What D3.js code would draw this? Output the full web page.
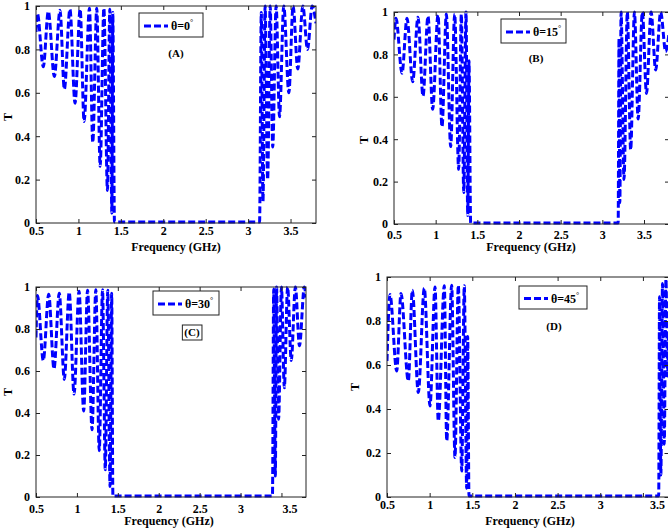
<!DOCTYPE html>
<html>
<head>
<meta charset="utf-8">
<script src="https://cdn.jsdelivr.net/npm/d3@7"></script>
<style>
  body { margin: 0; background: #fff; }
  svg { display: block; }
  text { font-family: "Liberation Serif", "Times New Roman", serif; font-weight: bold; fill: #000; }
</style>
</head>
<body>
<svg id="chart" width="668" height="528"></svg>
<script>
// ---------------- data ----------------
const xTicks = [0.5, 1, 1.5, 2, 2.5, 3, 3.5];
const yTicks = [0, 0.2, 0.4, 0.6, 0.8, 1];
const xLabel = "Frequency (GHz)";
const yLabel = "T";
const angles = ["0", "15", "30", "45"];
const panelTags = ["(A)", "(B)", "(C)", "(D)"];

// panel A, θ = 0°
const freqA = [0.50, 0.516, 0.586, 0.645, 0.716, 0.783, 0.834, 0.90, 0.96, 1.02, 1.067, 1.13, 1.169, 1.216, 1.256, 1.30, 1.342, 1.37, 1.394, 1.405, 1.425,
               3.135, 3.155, 3.175, 3.20, 3.23, 3.26, 3.29, 3.33, 3.37, 3.42, 3.48, 3.53, 3.585, 3.645, 3.70, 3.755, 3.80];
const transA = [0.88, 0.966, 0.72, 0.975, 0.675, 0.98, 0.617, 0.985, 0.552, 0.985, 0.468, 0.99, 0.371, 0.99, 0.261, 0.99, 0.15, 0.985, 0.046, 0.97, 0.005,
                0.005, 0.97, 0.1, 1.0, 0.2, 1.0, 0.35, 1.0, 0.49, 1.0, 0.6, 1.0, 0.71, 1.0, 0.8, 1.0, 0.92];

// panel B, θ = 15°
const freqB = [0.50, 0.524, 0.596, 0.656, 0.724, 0.788, 0.848, 0.908, 0.964, 1.028, 1.076, 1.128, 1.18, 1.228, 1.276, 1.308, 1.337, 1.364, 1.385, 1.40, 1.42,
               3.19, 3.20, 3.21, 3.225, 3.26, 3.30, 3.34, 3.385, 3.43, 3.48, 3.53, 3.585, 3.64, 3.70, 3.76, 3.80];
const transB = [0.87, 0.97, 0.711, 0.97, 0.671, 0.975, 0.604, 0.98, 0.541, 0.986, 0.459, 0.99, 0.365, 0.99, 0.258, 0.99, 0.148, 1.0, 0.04, 0.77, 0.005,
                0.005, 0.876, 0.1, 1.0, 0.21, 1.0, 0.35, 1.0, 0.495, 1.0, 0.616, 1.0, 0.726, 1.0, 0.813, 0.9];

// panel C, θ = 30°
const freqC = [0.50, 0.518, 0.589, 0.655, 0.72, 0.784, 0.846, 0.906, 0.965, 1.026, 1.083, 1.13, 1.185, 1.231, 1.273, 1.313, 1.347, 1.377, 1.405, 1.425, 1.44,
               3.39, 3.405, 3.425, 3.44, 3.465, 3.50, 3.535, 3.575, 3.62, 3.67, 3.72, 3.78, 3.80];
const transC = [0.76, 0.96, 0.65, 0.965, 0.61, 0.97, 0.56, 0.975, 0.49, 0.98, 0.41, 0.985, 0.32, 0.987, 0.22, 0.987, 0.13, 0.985, 0.05, 0.97, 0.005,
                0.005, 0.99, 0.1, 1.0, 0.37, 1.0, 0.52, 1.0, 0.65, 1.0, 0.72, 1.0, 0.95];

// panel D, θ = 45°
const freqD = [0.50, 0.535, 0.614, 0.664, 0.75, 0.797, 0.867, 0.937, 1.004, 1.063, 1.101, 1.172, 1.2, 1.258, 1.297, 1.336, 1.376, 1.406, 1.434, 1.446, 1.461,
               3.685, 3.695, 3.71, 3.73, 3.75, 3.77, 3.79, 3.80];
const transD = [0.618, 0.92, 0.573, 0.925, 0.527, 0.94, 0.475, 0.949, 0.414, 0.955, 0.345, 0.96, 0.255, 0.962, 0.18, 0.962, 0.118, 0.96, 0.04, 0.73, 0.005,
                0.005, 0.91, 0.1, 0.97, 0.24, 0.99, 0.55, 0.75];

const seriesFreq = [freqA, freqB, freqC, freqD];
const seriesTrans = [transA, transB, transC, transD];

// ---------------- layout ----------------
const panels = [
  { left: 36,  right: 316,   top: 6,   bottom: 223, xDom: [0.5, 3.8], tickPad: 3, lastDx: 0,
    xLab: [176, 251], yLab: [8, 117], legend: [139, 13, 64, 24], tag: [176, 57], tagBox: false },
  { left: 394, right: 669,   top: 12,  bottom: 224, xDom: [0.5, 3.8], tickPad: 6, lastDx: 0,
    xLab: [531, 251], yLab: [364, 140], legend: [501, 19, 65, 24], tag: [536, 62], tagBox: false },
  { left: 36,  right: 306,   top: 287, bottom: 497, xDom: [0.5, 3.8], tickPad: 7, lastDx: 8,
    xLab: [169, 525], yLab: [8, 392], legend: [153, 291, 66, 24], tag: [192, 336], tagBox: true },
  { left: 387, right: 668.5, top: 277, bottom: 497, xDom: [0.5, 3.8], tickPad: 3, lastDx: 14,
    xLab: [530, 525], yLab: [355, 387], legend: [519, 286, 68, 23], tag: [554, 330], tagBox: false }
];

const svg = d3.select("#chart");
const blue = "#0000ff";
const dash = "7,3";

panels.forEach((p, i) => {
  const x = d3.scaleLinear().domain(p.xDom).range([p.left, p.right]);
  const y = d3.scaleLinear().domain([0, 1]).range([p.bottom, p.top]);
  const g = svg.append("g");

  const clipId = "clip" + i;
  g.append("clipPath").attr("id", clipId).append("rect")
    .attr("x", p.left).attr("y", p.top - 3)
    .attr("width", p.right - p.left).attr("height", p.bottom - p.top + 6);

  // data line
  const data = seriesFreq[i].map((f, k) => ({ f: f, t: seriesTrans[i][k] }));
  const line = d3.line().x(d => x(d.f)).y(d => y(d.t)).curve(d3.curveMonotoneX);
  g.append("path").datum(data)
    .attr("clip-path", `url(#${clipId})`)
    .attr("d", line)
    .attr("fill", "none")
    .attr("stroke", blue)
    .attr("stroke-width", 3)
    .attr("stroke-dasharray", dash);

  // axes (ticks inside, MATLAB-like box)
  const axB = d3.axisBottom(x).tickValues(xTicks).tickSize(-4).tickPadding(p.tickPad).tickFormat(d => String(d));
  const axT = d3.axisTop(x).tickValues(xTicks).tickSize(-4).tickFormat("");
  const axL = d3.axisLeft(y).tickValues(yTicks).tickSize(-4).tickPadding(6).tickFormat(d => String(d));
  const axR = d3.axisRight(y).tickValues(yTicks).tickSize(-4).tickFormat("");

  const gB = g.append("g").attr("transform", `translate(0,${p.bottom})`).call(axB);
  const gT = g.append("g").attr("transform", `translate(0,${p.top})`).call(axT);
  const gL = g.append("g").attr("transform", `translate(${p.left},0)`).call(axL);
  const gR = g.append("g").attr("transform", `translate(${p.right},0)`).call(axR);
  [gB, gT, gL, gR].forEach(a => {
    a.selectAll(".domain").remove();
    a.selectAll("line").attr("stroke", "#222");
    a.selectAll("text").attr("font-family", "Liberation Serif, serif").attr("font-weight", "bold")
      .attr("font-size", 12).attr("fill", "#000");
  });
  gB.selectAll(".tick text").filter(d => d === 3.5).attr("dx", p.lastDx);

  g.append("rect")
    .attr("x", p.left).attr("y", p.top)
    .attr("width", p.right - p.left).attr("height", p.bottom - p.top)
    .attr("fill", "none").attr("stroke", "#222").attr("stroke-width", 1);

  // axis titles
  g.append("text").attr("x", p.xLab[0]).attr("y", p.xLab[1])
    .attr("text-anchor", "middle").attr("font-size", 12).text(xLabel);
  g.append("text")
    .attr("transform", `translate(${p.yLab[0] + 4},${p.yLab[1]}) rotate(-90)`)
    .attr("text-anchor", "middle").attr("font-size", 12).text(yLabel);

  // legend
  const [lx, ly, lw, lh] = p.legend;
  g.append("rect").attr("x", lx).attr("y", ly).attr("width", lw).attr("height", lh)
    .attr("fill", "#fff").attr("stroke", "#222").attr("stroke-width", 1);
  g.append("line")
    .attr("x1", lx + 5).attr("x2", lx + 29)
    .attr("y1", ly + lh / 2 + 1).attr("y2", ly + lh / 2 + 1)
    .attr("stroke", blue).attr("stroke-width", 3).attr("stroke-dasharray", dash);
  const lt = g.append("text").attr("x", lx + 32).attr("y", ly + lh / 2 + 5).attr("font-size", 12);
  lt.append("tspan").text("θ=" + angles[i]);
  lt.append("tspan").attr("dy", -5).attr("font-size", 8).attr("font-weight", "normal").text("°");

  // panel tag
  const tg = g.append("text").attr("x", p.tag[0]).attr("y", p.tag[1])
    .attr("text-anchor", "middle").attr("font-size", 11).text(panelTags[i]);
  if (p.tagBox) {
    const bb = tg.node().getBBox();
    g.append("rect")
      .attr("x", bb.x - 2).attr("y", bb.y - 1).attr("width", bb.width + 4).attr("height", bb.height + 2)
      .attr("fill", "none").attr("stroke", "#222").attr("stroke-width", 1);
  }
});
</script>
</body>
</html>
